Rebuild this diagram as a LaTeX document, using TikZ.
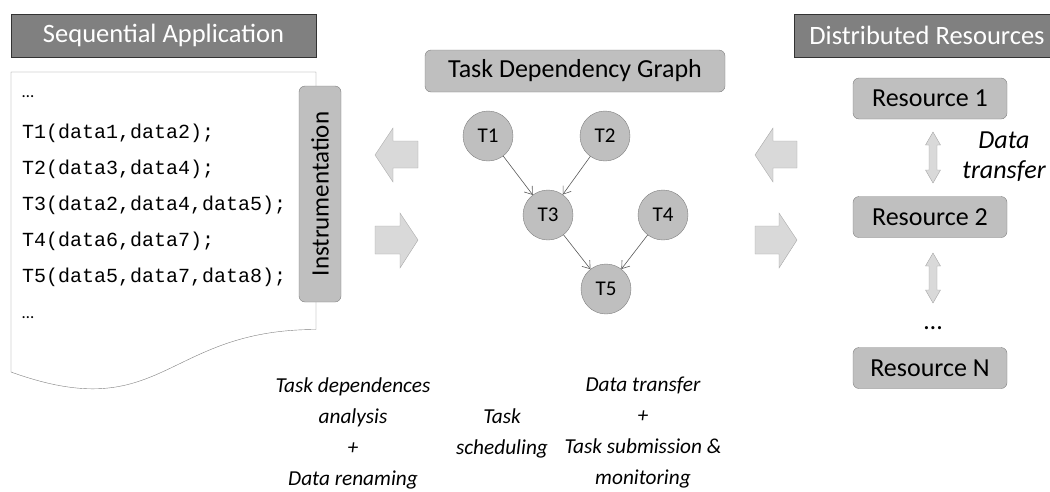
\documentclass[tikz,border=0pt]{standalone}
\usepackage{fontspec}
\setmainfont{Carlito}
\setmonofont{Liberation Mono}
\usetikzlibrary{positioning,arrows.meta}

\definecolor{hdrgray}{HTML}{808080}
\definecolor{boxgray}{HTML}{BFBFBF}
\definecolor{arrgray}{HTML}{D9D9D9}
\definecolor{linegray}{HTML}{7F7F7F}

\tikzset{
  header/.style={draw=black!80, fill=hdrgray, text=white, minimum height=43pt,
                 font=\fontsize{26.5}{30}\selectfont},
  softbox/.style={draw=linegray, fill=boxgray, rounded corners=6pt,
                  font=\fontsize{26}{30}\selectfont},
  task/.style={circle, draw=linegray, fill=boxgray, minimum size=50pt, inner sep=0pt,
               font=\fontsize{21}{24}\selectfont},
  dep/.style={-{Straight Barb[length=7pt,width=10pt]}, draw=black!65, semithick},
  codeline/.style={anchor=west, inner sep=0pt, font=\ttfamily\fontsize{20}{24}\selectfont},
  blockarrow/.style={draw=black!35, fill=arrgray},
  note/.style={align=center, font=\itshape\fontsize{21.3}{31}\selectfont}
}

\begin{document}
\begin{tikzpicture}[x=1pt, y=-1pt]
\useasboundingbox (0,0) rectangle (1050,491);

% left part: the program
\node[header, minimum width=305pt] (seq) at (163.5,35.5) {Sequential Application};
\draw[draw=linegray] (11,72) -- (316,72) -- (316,329.5)
      .. controls (163.5,329.5) and (163.5,427) .. (11,372) -- cycle;
\node[codeline, font=\fontsize{17}{20}\selectfont] (c0) at (22,97) {…};
\node[codeline] (c1) at (22,133) {T1(data1,data2);};
\node[codeline] (c2) at (22,169) {T2(data3,data4);};
\node[codeline] (c3) at (22,205) {T3(data2,data4,data5);};
\node[codeline] (c4) at (22,241) {T4(data6,data7);};
\node[codeline] (c5) at (22,277) {T5(data5,data7,data8);};
\node[codeline, font=\fontsize{17}{20}\selectfont] (c6) at (22,318) {…};
\node[softbox, rotate=90, minimum width=216pt, minimum height=42pt, font=\fontsize{25}{30}\selectfont]
     (instr) at (320,194) {Instrumentation};

% block arrows
\foreach \xa/\xb in {375/418, 755/797}{
  \draw[blockarrow] (\xa,155) -- (\xa+18,128) -- (\xa+18,141) -- (\xb,141)
        -- (\xb,168) -- (\xa+18,168) -- (\xa+18,182) -- cycle;
  \draw[blockarrow] (\xb,240) -- (\xb-18,213) -- (\xb-18,226) -- (\xa,226)
        -- (\xa,254) -- (\xb-18,254) -- (\xb-18,268) -- cycle;
}

% middle part: the graph
\node[softbox, minimum width=300pt, minimum height=42pt] (tdg) at (575,71) {Task Dependency Graph};
\node[task] (t1) at (488,136) {T1};
\node[task] (t2) at (605,136) {T2};
\node[task] (t3) at (548,215) {T3};
\node[task] (t4) at (663,215) {T4};
\node[task] (t5) at (606,289) {T5};
\draw[dep] (t1) -- (t3);
\draw[dep] (t2) -- (t3);
\draw[dep] (t3) -- (t5);
\draw[dep] (t4) -- (t5);

% right part: the resources
\node[header, minimum width=266pt] (dist) at (927,35.5) {Distributed Resources};
\node[softbox, minimum width=154pt, minimum height=41pt] (r1) at (930,98.5) {Resource 1};
\node[softbox, minimum width=154pt, minimum height=41pt] (r2) at (930,217) {Resource 2};
\node[softbox, minimum width=154pt, minimum height=41pt] (rn) at (930,368) {Resource N};
\foreach \ya/\yb in {132/183, 253/303}{
  \draw[blockarrow] (933,\ya) -- (940.5,\ya+13) -- (937,\ya+13) -- (937,\yb-13)
        -- (940.5,\yb-13) -- (933,\yb) -- (925.5,\yb-13) -- (929,\yb-13)
        -- (929,\ya+13) -- (925.5,\ya+13) -- cycle;
}
\node[font=\fontsize{26}{30}\selectfont] (dots) at (933,328) {…};
\node[note, font=\itshape\fontsize{26}{30}\selectfont] (xfer) at (1004,157) {Data\\transfer};

% what each step does
\node[note] (ana) at (353,433) {Task dependences\\analysis\\+\\Data renaming};
\node[note] (sched) at (502,433) {Task\\scheduling};
\node[note] (subm) at (643,433) {Data transfer\\+\\Task submission \&\\monitoring};
\end{tikzpicture}
\end{document}
